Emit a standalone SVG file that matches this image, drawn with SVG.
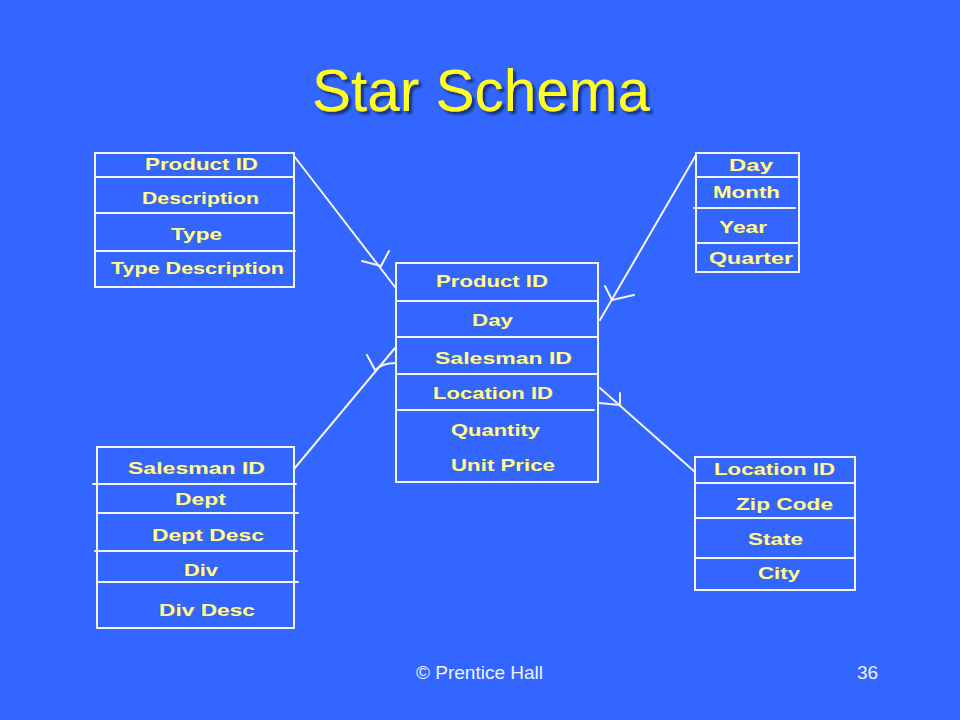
<svg xmlns="http://www.w3.org/2000/svg" width="960" height="720" viewBox="0 0 960 720">
<defs>
<filter id="ds" x="-5%" y="-20%" width="115%" height="150%">
<feDropShadow dx="3" dy="3" stdDeviation="1" flood-color="#14224a" flood-opacity="0.75"/>
</filter>
</defs>
<style>
.bg{fill:#3366ff}
.box{fill:none;stroke:#f2f4f0;stroke-width:2}
.ln{fill:none;stroke:#f2f4f0;stroke-width:2;stroke-linecap:round}
.lbl{font-family:"Liberation Sans",Arial,sans-serif;font-weight:bold;font-size:17px;fill:#fbfba8;stroke:#6a6a50;stroke-width:0.6;paint-order:stroke}
.title{font-family:"Liberation Sans",Arial,sans-serif;font-size:59px;fill:#ffff22}
.foot{font-family:"Liberation Sans",Arial,sans-serif;font-size:19px;fill:#eef2ff}
</style>
<rect class="bg" x="0" y="0" width="960" height="720"/>
<g id="title">
<text class="title" x="312" y="111" textLength="338" lengthAdjust="spacingAndGlyphs" filter="url(#ds)">Star Schema</text>
</g>
<g id="connectors">
<line class="ln" x1="294" y1="156" x2="395" y2="287"/>
<line class="ln" x1="381" y1="266" x2="362" y2="261"/>
<line class="ln" x1="381" y1="266" x2="389" y2="251"/>
<line class="ln" x1="696" y1="155" x2="600" y2="320"/>
<line class="ln" x1="612" y1="300" x2="605" y2="286"/>
<line class="ln" x1="612" y1="300" x2="634" y2="295"/>
<line class="ln" x1="294" y1="469" x2="395" y2="348"/>
<line class="ln" x1="375" y1="370" x2="367" y2="355"/>
<path class="ln" d="M375 370 Q383 363 395 363"/>
<line class="ln" x1="600" y1="388" x2="695" y2="472"/>
<line class="ln" x1="620" y1="405" x2="599" y2="403"/>
<line class="ln" x1="620" y1="405" x2="620" y2="393"/>
</g>
<g id="product">
<rect class="box" x="95" y="153" width="199" height="134"/>
<line class="ln" x1="95" y1="177" x2="294" y2="177"/>
<line class="ln" x1="95" y1="213" x2="294" y2="213"/>
<line class="ln" x1="95" y1="251" x2="295" y2="251"/>
<text class="lbl" x="145" y="170" textLength="113" lengthAdjust="spacingAndGlyphs">Product ID</text>
<text class="lbl" x="142" y="204" textLength="117" lengthAdjust="spacingAndGlyphs">Description</text>
<text class="lbl" x="171" y="240" textLength="51" lengthAdjust="spacingAndGlyphs">Type</text>
<text class="lbl" x="111" y="274" textLength="173" lengthAdjust="spacingAndGlyphs">Type Description</text>
</g>
<g id="fact">
<rect class="box" x="396" y="263" width="202" height="219"/>
<line class="ln" x1="396" y1="301" x2="598" y2="301"/>
<line class="ln" x1="396" y1="337" x2="598" y2="337"/>
<line class="ln" x1="396" y1="374" x2="598" y2="374"/>
<line class="ln" x1="396" y1="410" x2="594" y2="410"/>
<text class="lbl" x="436" y="287" textLength="112" lengthAdjust="spacingAndGlyphs">Product ID</text>
<text class="lbl" x="472" y="326" textLength="41" lengthAdjust="spacingAndGlyphs">Day</text>
<text class="lbl" x="435" y="364" textLength="137" lengthAdjust="spacingAndGlyphs">Salesman ID</text>
<text class="lbl" x="433" y="399" textLength="120" lengthAdjust="spacingAndGlyphs">Location ID</text>
<text class="lbl" x="451" y="436" textLength="89" lengthAdjust="spacingAndGlyphs">Quantity</text>
<text class="lbl" x="451" y="471" textLength="104" lengthAdjust="spacingAndGlyphs">Unit Price</text>
</g>
<g id="time">
<rect class="box" x="696" y="153" width="103" height="119"/>
<line class="ln" x1="696" y1="177" x2="799" y2="177"/>
<line class="ln" x1="694" y1="208" x2="795" y2="208"/>
<line class="ln" x1="696" y1="243" x2="799" y2="243"/>
<text class="lbl" x="729" y="171" textLength="44" lengthAdjust="spacingAndGlyphs">Day</text>
<text class="lbl" x="713" y="198" textLength="67" lengthAdjust="spacingAndGlyphs">Month</text>
<text class="lbl" x="719" y="233" textLength="48" lengthAdjust="spacingAndGlyphs">Year</text>
<text class="lbl" x="709" y="264" textLength="84" lengthAdjust="spacingAndGlyphs">Quarter</text>
</g>
<g id="salesman">
<rect class="box" x="97" y="447" width="197" height="181"/>
<line class="ln" x1="93" y1="484" x2="296" y2="484"/>
<line class="ln" x1="97" y1="513" x2="298" y2="513"/>
<line class="ln" x1="95" y1="551" x2="297" y2="551"/>
<line class="ln" x1="97" y1="582" x2="298" y2="582"/>
<text class="lbl" x="128" y="474" textLength="137" lengthAdjust="spacingAndGlyphs">Salesman ID</text>
<text class="lbl" x="175" y="505" textLength="51" lengthAdjust="spacingAndGlyphs">Dept</text>
<text class="lbl" x="152" y="541" textLength="112" lengthAdjust="spacingAndGlyphs">Dept Desc</text>
<text class="lbl" x="184" y="576" textLength="34" lengthAdjust="spacingAndGlyphs">Div</text>
<text class="lbl" x="159" y="616" textLength="96" lengthAdjust="spacingAndGlyphs">Div Desc</text>
</g>
<g id="location">
<rect class="box" x="695" y="457" width="160" height="133"/>
<line class="ln" x1="695" y1="483" x2="855" y2="483"/>
<line class="ln" x1="695" y1="518" x2="855" y2="518"/>
<line class="ln" x1="695" y1="558" x2="855" y2="558"/>
<text class="lbl" x="714" y="475" textLength="121" lengthAdjust="spacingAndGlyphs">Location ID</text>
<text class="lbl" x="736" y="510" textLength="97" lengthAdjust="spacingAndGlyphs">Zip Code</text>
<text class="lbl" x="748" y="545" textLength="55" lengthAdjust="spacingAndGlyphs">State</text>
<text class="lbl" x="758" y="579" textLength="42" lengthAdjust="spacingAndGlyphs">City</text>
</g>
<g id="footer">
<text class="foot" x="416" y="679" textLength="127" lengthAdjust="spacingAndGlyphs">© Prentice Hall</text>
<text class="foot" x="857" y="679">36</text>
</g>
</svg>
